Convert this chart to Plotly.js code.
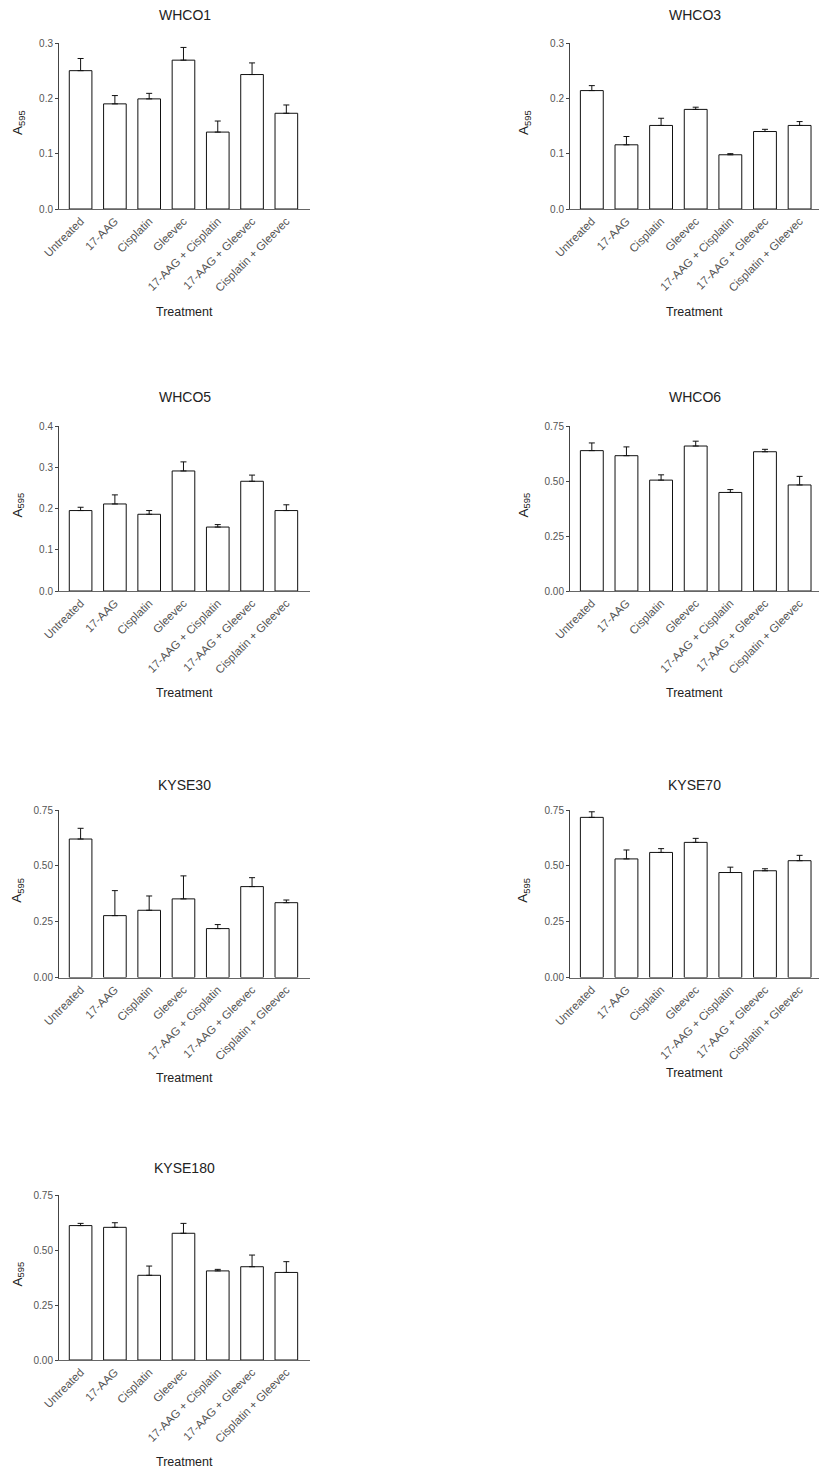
<!DOCTYPE html>
<html>
<head>
<meta charset="utf-8">
<script src="https://cdn.plot.ly/plotly-3.0.1.min.js"></script>
<style>
html,body{margin:0;padding:0;background:#fff;}
#chart{width:819px;height:1471px;}
</style>
</head>
<body>
<div id="chart"></div>
<script>
// ---- Data ----
const categories = ['Untreated','17-AAG','Cisplatin','Gleevec','17-AAG + Cisplatin','17-AAG + Gleevec','Cisplatin + Gleevec'];
const panelNames = ['WHCO1','WHCO3','WHCO5','WHCO6','KYSE30','KYSE70','KYSE180'];

const whco1      = [0.250, 0.190, 0.199, 0.269, 0.139, 0.243, 0.173];
const whco1Err   = [0.022, 0.015, 0.010, 0.023, 0.020, 0.021, 0.015];
const whco3      = [0.214, 0.116, 0.151, 0.180, 0.098, 0.140, 0.151];
const whco3Err   = [0.009, 0.015, 0.013, 0.004, 0.002, 0.004, 0.007];
const whco5      = [0.195, 0.211, 0.186, 0.291, 0.155, 0.266, 0.195];
const whco5Err   = [0.008, 0.022, 0.009, 0.022, 0.006, 0.015, 0.014];
const whco6      = [0.638, 0.615, 0.504, 0.659, 0.448, 0.633, 0.482];
const whco6Err   = [0.035, 0.040, 0.024, 0.022, 0.013, 0.011, 0.039];
const kyse30     = [0.620, 0.277, 0.301, 0.352, 0.219, 0.407, 0.335];
const kyse30Err  = [0.048, 0.112, 0.064, 0.103, 0.018, 0.040, 0.012];
const kyse70     = [0.717, 0.531, 0.560, 0.605, 0.470, 0.478, 0.523];
const kyse70Err  = [0.025, 0.040, 0.017, 0.018, 0.024, 0.009, 0.024];
const kyse180    = [0.611, 0.603, 0.385, 0.576, 0.405, 0.424, 0.398];
const kyse180Err = [0.010, 0.021, 0.042, 0.045, 0.007, 0.053, 0.049];

const yMax      = [0.3, 0.3, 0.4, 0.75, 0.75, 0.75, 0.75];
const yDtick    = [0.1, 0.1, 0.1, 0.25, 0.25, 0.25, 0.25];
const yFormat   = ['.1f','.1f','.1f','.2f','.2f','.2f','.2f'];
const xAxisTitle = 'Treatment';
const yAxisTitle = 'A<sub>595</sub>';

const seriesValues = [whco1, whco3, whco5, whco6, kyse30, kyse70, kyse180];
const seriesErrors = [whco1Err, whco3Err, whco5Err, whco6Err, kyse30Err, kyse70Err, kyse180Err];

// ---- Layout geometry (pixels) ----
const W = 819, H = 1471;
const colX = [[59, 310], [570, 819]];
const colRange = [[-0.63, 6.69], [-0.63, 6.56]];
const rowY = [[43, 209], [426, 591], [810, 977.5], [1195, 1360]];
const titleY = [15, 397, 785, 1168];
const treatY = [[312, 312], [693, 693], [1078, 1073], [1462, 1462]];
const yLabX = [18, 524];

const px = x => x / W;
const py = y => 1 - y / H;

const data = [];
const layout = {
  width: W, height: H,
  margin: {l: 0, r: 0, t: 0, b: 0},
  paper_bgcolor: '#fff', plot_bgcolor: '#fff',
  showlegend: false,
  font: {family: 'Liberation Sans, Arial, sans-serif', color: '#222'},
  annotations: []
};

panelNames.forEach((name, i) => {
  const col = i % 2, row = Math.floor(i / 2);
  const n = i + 1;
  const xa = 'x' + (n === 1 ? '' : n), ya = 'y' + (n === 1 ? '' : n);
  const xk = 'xaxis' + (n === 1 ? '' : n), yk = 'yaxis' + (n === 1 ? '' : n);
  data.push({
    type: 'bar', x: categories, y: seriesValues[i],
    xaxis: xa, yaxis: ya, width: 0.66,
    marker: {color: '#fff', line: {color: '#111', width: 1}},
    error_y: {type: 'data', symmetric: false, array: seriesErrors[i],
              arrayminus: categories.map(() => 0),
              color: '#111', thickness: 1, width: 3},
    hoverinfo: 'x+y'
  });
  layout[xk] = {
    domain: [px(colX[col][0]), px(colX[col][1])],
    anchor: ya, type: 'category', range: colRange[col],
    showline: true, linecolor: '#666', linewidth: 1,
    ticks: '', showgrid: false, zeroline: false,
    tickangle: -45, tickfont: {size: 11.5, color: '#555'},
    fixedrange: true
  };
  layout[yk] = {
    domain: [py(rowY[row][1]), py(rowY[row][0])],
    anchor: xa, range: [0, yMax[i]], dtick: yDtick[i], tick0: 0,
    tickformat: yFormat[i],
    showline: true, linecolor: '#444', linewidth: 1,
    ticks: 'outside', ticklen: 3, tickcolor: '#444',
    showgrid: false, zeroline: false,
    tickfont: {size: 10, color: '#555'},
    fixedrange: true
  };
  const cx = px((colX[col][0] + colX[col][1]) / 2);
  layout.annotations.push({
    text: name, xref: 'paper', yref: 'paper', x: cx, y: py(titleY[row]),
    xanchor: 'center', yanchor: 'middle', showarrow: false,
    font: {size: 14, color: '#222'}
  });
  layout.annotations.push({
    text: xAxisTitle, xref: 'paper', yref: 'paper', x: cx, y: py(treatY[row][col]),
    xanchor: 'center', yanchor: 'middle', showarrow: false,
    font: {size: 12.5, color: '#222'}
  });
  layout.annotations.push({
    text: yAxisTitle, xref: 'paper', yref: 'paper', x: px(yLabX[col]),
    y: py((rowY[row][0] + rowY[row][1]) / 2 - 3),
    xanchor: 'center', yanchor: 'middle', showarrow: false, textangle: -90,
    font: {size: 13.5, color: '#222'}
  });
});

Plotly.newPlot('chart', data, layout, {displayModeBar: false, staticPlot: true});
</script>
</body>
</html>
